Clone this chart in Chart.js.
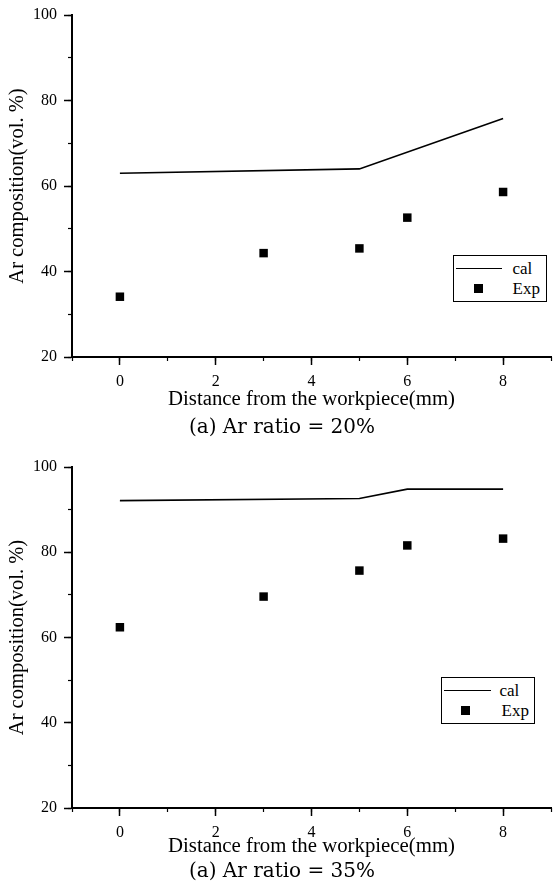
<!DOCTYPE html>
<html>
<head>
<meta charset="utf-8">
<script src="https://cdn.jsdelivr.net/npm/chart.js@4.4.1/dist/chart.umd.min.js"></script>
<style>
html,body{margin:0;padding:0;background:#fff;}
body{width:560px;height:888px;position:relative;overflow:hidden;font-family:"Liberation Serif",serif;}
.panel{position:absolute;left:0;width:560px;height:444px;}
.panel canvas{position:absolute;left:0;top:0;}
.legend{position:absolute;width:94px;height:47px;box-sizing:border-box;border:1.5px solid #000;background:#fff;z-index:2;}
.lline{position:absolute;height:1.6px;background:#000;}
.lmark{position:absolute;width:8.5px;height:8.5px;background:#000;}
.ltext{position:absolute;font-family:"Liberation Serif",serif;font-size:17px;line-height:18px;color:#000;white-space:nowrap;}
</style>
</head>
<body>
<div class="panel" style="top:0">
  <canvas id="c1" width="560" height="444"></canvas>
  <div class="legend" style="left:453px;top:255px">
    <div class="lline" style="left:1.5px;top:11.7px;width:46px"></div>
    <span class="ltext" id="l1a" style="left:58.5px;top:3.5px"></span>
    <div class="lmark" style="left:20.3px;top:28.3px"></div>
    <span class="ltext" id="l1b" style="left:58.5px;top:23.5px"></span>
  </div>
</div>
<div class="panel" style="top:444px">
  <canvas id="c2" width="560" height="444"></canvas>
  <div class="legend" style="left:441px;top:233px">
    <div class="lline" style="left:1.5px;top:11.7px;width:47px"></div>
    <span class="ltext" id="l2a" style="left:57.5px;top:3.5px"></span>
    <div class="lmark" style="left:19px;top:28px"></div>
    <span class="ltext" id="l2b" style="left:59.5px;top:23.5px"></span>
  </div>
</div>
<script>
// ---- data ----
const distances = [0, 3, 5, 6, 8];
const exp20 = [34.1, 44.3, 45.4, 52.6, 58.6];
const calDist20 = [0, 5, 8];
const cal20 = [63.0, 64.0, 75.8];
const exp35 = [62.4, 69.6, 75.7, 81.6, 83.2];
const calDist35 = [0, 5, 6, 8];
const cal35 = [92.1, 92.6, 94.8, 94.8];
const xLabelValues = [0, 2, 4, 6, 8];
const yLabelValues = [20, 40, 60, 80, 100];
const seriesNames = ['cal', 'Exp'];
const xTitle = 'Distance from the workpiece(mm)';
const yTitle = 'Ar composition(vol. %)';
const subtitles = ['(a) Ar ratio = 20%', '(a) Ar ratio = 35%'];

Chart.defaults.font.family = "'Liberation Serif', serif";
Chart.defaults.color = '#000';

function pts(xs, ys) { return xs.map((x, i) => ({ x: x, y: ys[i] })); }

function build(canvasId, calX, calY, expY, subtitle, L) {
  return new Chart(document.getElementById(canvasId), {
    type: 'scatter',
    data: {
      datasets: [
        { label: seriesNames[0], type: 'line', data: pts(calX, calY), borderColor: '#000',
          borderWidth: 1.6, pointRadius: 0, pointHoverRadius: 0, fill: false, tension: 0 },
        { label: seriesNames[1], data: pts(distances, expY), pointStyle: 'rect', pointRadius: 6,
          pointHoverRadius: 6, backgroundColor: '#000', borderColor: '#000', borderWidth: 0 }
      ]
    },
    options: {
      responsive: false, animation: false, devicePixelRatio: 1,
      layout: { padding: { top: L.top, left: 4, right: 0, bottom: 0 } },
      plugins: {
        legend: { display: false },
        tooltip: { enabled: false },
        title: { display: true, position: 'bottom', text: subtitle, color: '#000',
          font: { family: "'DejaVu Serif', serif", size: 20, weight: 'normal', lineHeight: 1 },
          padding: { top: L.subTop, bottom: L.subBot } }
      },
      scales: {
        x: {
          type: 'linear', min: -1, max: 9,
          afterFit: function (s) { s.height = L.xh; },
          ticks: { stepSize: 1, autoSkip: false, maxRotation: 0, padding: 9, color: '#000',
            font: { size: 16, lineHeight: 1 },
            callback: function (v) { return xLabelValues.includes(v) ? String(v) : ''; } },
          grid: { drawOnChartArea: false, drawTicks: true, tickLength: 8, tickWidth: 1.5,
            tickColor: function (c) { return (c.tick && xLabelValues.includes(c.tick.value)) ? '#000' : 'rgba(0,0,0,0)'; } },
          border: { display: true, color: '#000', width: 2 },
          title: { display: true, text: xTitle, color: '#000', font: { size: 20.8, lineHeight: 1 },
            padding: { top: 0, bottom: 0 } }
        },
        y: {
          type: 'linear', min: 20, max: 100,
          afterFit: function (s) { s.width = 68; },
          ticks: { stepSize: 10, autoSkip: false, padding: 7, color: '#000',
            font: { size: 16, lineHeight: 1 },
            callback: function (v) { return yLabelValues.includes(v) ? String(v) : ''; } },
          grid: { drawOnChartArea: false, drawTicks: true, tickLength: 8, tickWidth: 1.5,
            tickColor: function (c) { return (c.tick && yLabelValues.includes(c.tick.value)) ? '#000' : 'rgba(0,0,0,0)'; } },
          border: { display: true, color: '#000', width: 2 },
          title: { display: true, text: yTitle, color: '#000', font: { size: 20.5, lineHeight: 1 },
            padding: { top: 3.75, bottom: 0 } }
        },
        xMinor: {
          type: 'linear', axis: 'x', position: { y: 20 }, min: -1, max: 9,
          ticks: { display: false, stepSize: 1, autoSkip: false },
          grid: { drawOnChartArea: false, drawTicks: true, tickLength: 4, tickWidth: 1.2, color: '#000', tickColor: '#000' },
          border: { display: false }
        },
        yMinor: {
          type: 'linear', axis: 'y', position: { x: -1 }, min: 20, max: 100,
          ticks: { display: false, stepSize: 10, autoSkip: false },
          grid: { drawOnChartArea: false, drawTicks: true, tickLength: 4, tickWidth: 1.2, color: '#000', tickColor: '#000' },
          border: { display: false }
        }
      }
    }
  });
}

build('c1', calDist20, cal20, exp20, subtitles[0], { top: 15, xh: 53, subTop: 8, subBot: 6 });
build('c2', calDist35, cal35, exp35, subtitles[1], { top: 23, xh: 49, subTop: 5, subBot: 6 });

document.getElementById('l1a').textContent = seriesNames[0];
document.getElementById('l1b').textContent = seriesNames[1];
document.getElementById('l2a').textContent = seriesNames[0];
document.getElementById('l2b').textContent = seriesNames[1];
</script>
</body>
</html>
